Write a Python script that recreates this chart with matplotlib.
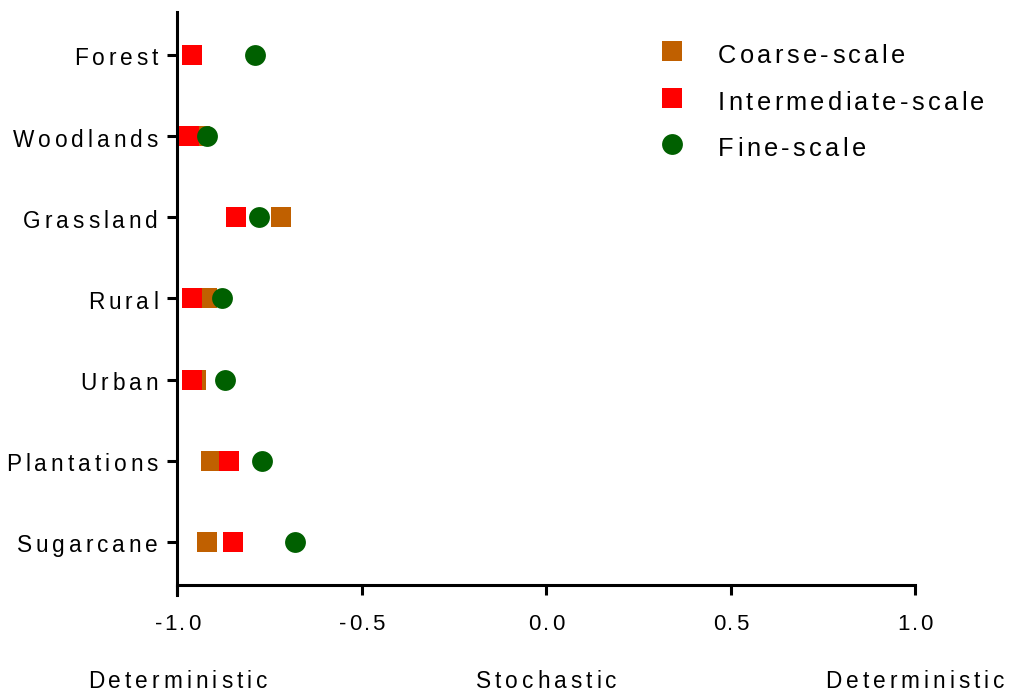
import numpy as np
import matplotlib
matplotlib.use("Agg")
import matplotlib.pyplot as plt
from matplotlib.font_manager import FontProperties, findfont, get_font
from matplotlib.transforms import ScaledTranslation, blended_transform_factory

plt.rcParams['font.family'] = ['Liberation Sans', 'DejaVu Sans']

habitats = ["Forest", "Woodlands", "Grassland", "Rural", "Urban", "Plantations", "Sugarcane"]
coarse = [-0.96, -0.94, -0.72, -0.92, -0.95, -0.91, -0.92]
intermediate = [-0.96, -0.97, -0.84, -0.96, -0.96, -0.86, -0.85]
fine = [-0.79, -0.92, -0.78, -0.88, -0.87, -0.77, -0.68]

x_ticks = [-1.0, -0.5, 0.0, 0.5, 1.0]
end_labels = [(-1.0, "Deterministic"), (0.0, "Stochastic"), (1.0, "Deterministic")]
series_names = ["Coarse-scale", "Intermediate-scale", "Fine-scale"]

ORANGE = "#C06000"
RED = "#FF0000"
GREEN = "#006000"

fig = plt.figure(figsize=(10.2, 6.98), dpi=100, facecolor="white")
ax = fig.add_axes([0.174, 0.162, 0.723, 0.821])


def spaced_text(x, y, s, transform, size, track, ha='left', dx=0, dy=0):
    # one glyph per Text so the letters can be spread apart (track in points)
    prop = FontProperties(family='Liberation Sans', size=size)
    font = get_font(findfont(prop))
    font.set_size(size, 72)
    adv = [font.load_char(ord(c)).linearHoriAdvance / 65536 for c in s]
    total = sum(adv) + track * (len(s) - 1)
    pos = {'left': 0, 'center': -total / 2, 'right': -total}[ha] + dx
    for c, a in zip(s, adv):
        off = ScaledTranslation(pos / 72, dy / 72, fig.dpi_scale_trans)
        fig.text(x, y, c, transform=transform + off, fontproperties=prop,
                 ha='left', va='baseline')
        pos += a + track


ypos = np.arange(len(habitats))
ax.plot(coarse, ypos, 's', color=ORANGE, ms=15, mew=0, zorder=3)
ax.plot(intermediate, ypos, 's', color=RED, ms=15, mew=0, zorder=4)
ax.plot(fine, ypos, 'o', color=GREEN, ms=15, mew=0, zorder=5)

ax.set_xlim(-1.0, 1.0)
ax.set_ylim(6.53, -0.53)
ax.set_yticks(ypos)
ax.set_xticks(x_ticks)

for side in ["top", "right"]:
    ax.spines[side].set_visible(False)
for side in ["left", "bottom"]:
    ax.spines[side].set_linewidth(2.2)
ax.spines["left"].set_bounds(6.65, -0.53)

ax.tick_params(axis='both', width=2.2, length=7, direction='out',
               labelleft=False, labelbottom=False)

# category labels on the left
ytrans = blended_transform_factory(ax.transAxes, ax.transData)
for yv, name in zip(ypos, habitats):
    spaced_text(0, yv, name, ytrans, 16.3, 2.9, ha='right', dx=-14, dy=-7.6)

# x tick labels
xtrans = blended_transform_factory(ax.transData, ax.transAxes)
for xv in x_ticks:
    spaced_text(xv, 0, f"{xv:.1f}", xtrans, 16.0, 1.8, ha='center', dy=-32.3)

# labels under the axis: both ends deterministic, middle stochastic
btrans = blended_transform_factory(ax.transData, fig.transFigure)
for xv, txt in end_labels:
    spaced_text(xv, 1 - 687.5 / 698, txt, btrans, 16.3, 2.9, ha='center')

# legend, top right
leg_markers = [('s', ORANGE), ('s', RED), ('o', GREEN)]
for i, ((m, col), name) in enumerate(zip(leg_markers, series_names)):
    ym = 1 - (51 + 46.5 * i) / 698
    fig.add_artist(plt.Line2D([672 / 1020], [ym], marker=m, ls='', color=col,
                              ms=15, mew=0, transform=fig.transFigure))
    spaced_text(718 / 1020, ym - 12 / 698, name, fig.transFigure, 18.3, 2.45)

fig.savefig("out.png", dpi=100, facecolor="white")
